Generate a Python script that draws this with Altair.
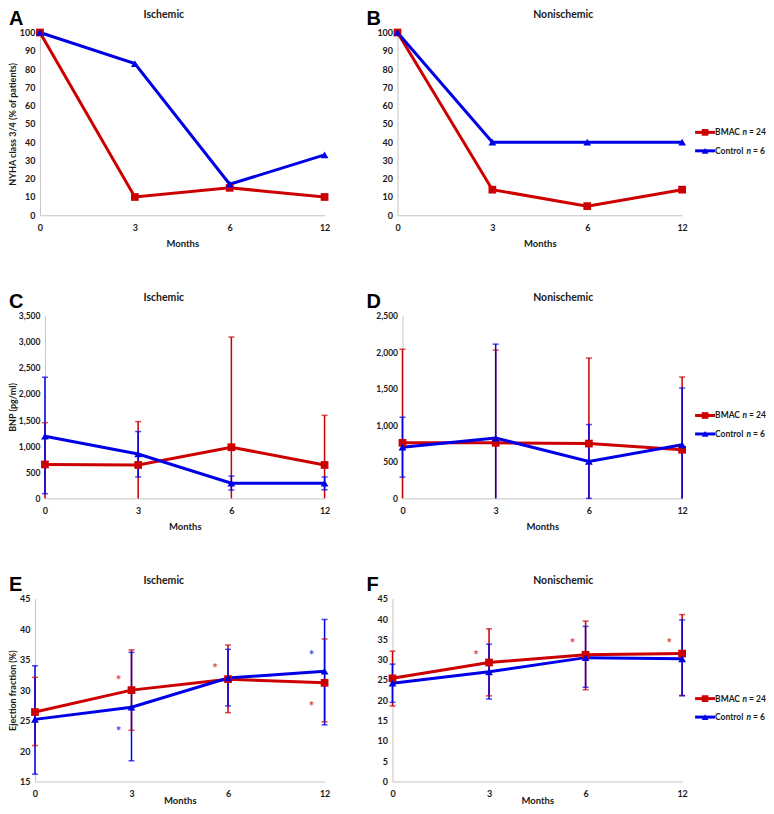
import altair as alt
import pandas as pd

months = ["0", "3", "6", "12"]
groups = ["BMAC", "Control"]
legend_n = [24, 6]

# NYHA class 3/4 (% of patients)
nyha_isch_bmac = [100, 10, 15, 10]
nyha_isch_ctrl = [100, 83, 17, 33]
nyha_non_bmac = [100, 14, 5, 14]
nyha_non_ctrl = [100, 40, 40, 40]

# BNP (pg/ml); None = error bar runs below the axis
bnp_isch_bmac = [650, 640, 980, 640]
bnp_isch_bmac_hi = [1450, 1470, 3090, 1590]
bnp_isch_bmac_lo = [None, None, None, None]
bnp_isch_ctrl = [1190, 850, 290, 290]
bnp_isch_ctrl_hi = [2320, 1280, 427, 410]
bnp_isch_ctrl_lo = [90, 410, 160, 165]

bnp_non_bmac = [760, 760, 750, 665]
bnp_non_bmac_hi = [2040, 2030, 1920, 1660]
bnp_non_bmac_lo = [None, None, None, None]
bnp_non_ctrl = [700, 825, 505, 733]
bnp_non_ctrl_hi = [1110, 2110, 1010, 1510]
bnp_non_ctrl_lo = [290, None, 0, None]

# Ejection fraction (%)
ef_isch_bmac = [26.4, 30.0, 31.8, 31.2]
ef_isch_bmac_hi = [32.1, 36.6, 37.4, 38.4]
ef_isch_bmac_lo = [20.9, 23.4, 26.3, 24.8]
ef_isch_ctrl = [25.2, 27.2, 32.0, 33.1]
ef_isch_ctrl_hi = [34.0, 36.2, 36.7, 41.6]
ef_isch_ctrl_lo = [16.2, 18.4, 27.4, 24.3]

ef_non_bmac = [25.4, 29.3, 31.2, 31.5]
ef_non_bmac_hi = [32.1, 37.6, 39.5, 41.1]
ef_non_bmac_lo = [18.6, 21.1, 22.6, 21.2]
ef_non_ctrl = [24.2, 27.0, 30.5, 30.2]
ef_non_ctrl_hi = [28.9, 33.8, 38.2, 39.8]
ef_non_ctrl_lo = [19.5, 20.3, 23.2, 21.1]

# significance asterisks: (month, group, y)
stars_isch_month = ["3", "6", "12", "3", "12"]
stars_isch_group = ["BMAC", "BMAC", "BMAC", "Control", "Control"]
stars_isch_y = [32.1, 34.1, 27.9, 23.8, 36.2]
stars_non_month = ["3", "6", "12"]
stars_non_group = ["BMAC", "BMAC", "BMAC"]
stars_non_y = [31.9, 34.9, 34.9]

RED = "#CC0000"
BLUE = "#0000E6"
AXIS = "#c4c4c4"
TXT = "#1a1a1a"
FONT = "Lato"
H = 183
W = 290
LEFT_ORIGIN = 34  # page x of left column view origin


def make_df(bmac, ctrl, bh=None, bl=None, ch=None, cl=None):
    rows = []
    for g, vals, his, los in [("BMAC", bmac, bh, bl), ("Control", ctrl, ch, cl)]:
        for i, m in enumerate(months):
            r = {"month": m, "group": g, "val": vals[i]}
            if his is not None:
                r["hi"] = his[i]
                r["lo_bar"] = los[i] if los[i] is not None else 0
                r["lo_cap"] = los[i] if los[i] is not None else float("nan")
            rows.append(r)
    return pd.DataFrame(rows)


def panel(df, ydom, yvals, yfmt, ytitle, title, letter, left_col, inset,
          stars=None, legend=False, months_y=31.5, ylab_size=9):
    w = W
    title_x = 129 if left_col else 171
    xaxis = alt.Axis(title="Months", labelAngle=0, ticks=False, domainColor=AXIS,
                     labelPadding=8, labelFontSize=9, labelFontWeight="bold",
                     labelColor=TXT, labelFont=FONT, titleFont=FONT,
                     titleFontSize=9.5, titleFontWeight="bold", titleColor=TXT,
                     titleY=months_y, titleBaseline="alphabetic")
    xenc = alt.X("month:N", sort=months,
                 scale=alt.Scale(type="point", padding=0, range=[inset, w]),
                 axis=xaxis)
    common = dict(values=yvals, format=yfmt, grid=False, ticks=False,
                  domainColor=AXIS, labelPadding=5, labelFontSize=ylab_size,
                  labelFontWeight="bold", labelColor=TXT, labelFont=FONT)
    if inset:
        common["offset"] = -inset
    if ytitle:
        yaxis = alt.Axis(titleFont=FONT, titleFontSize=9, titleFontWeight="bold",
                         titleColor=TXT, titleX=16.5 - (LEFT_ORIGIN + inset),
                         titleY=H / 2, titleAngle=270, titleAlign="center",
                         titleBaseline="bottom", **common)
    else:
        yaxis = alt.Axis(**common)
    yscale = alt.Scale(domain=ydom, nice=False, zero=False)

    def yenc(field):
        if ytitle:
            return alt.Y(field + ":Q", scale=yscale, axis=yaxis, title=ytitle)
        return alt.Y(field + ":Q", scale=yscale, axis=yaxis, title=None)

    color = alt.Color("group:N", scale=alt.Scale(domain=groups, range=[RED, BLUE]),
                      legend=None)
    shape = alt.Shape("group:N", scale=alt.Scale(domain=groups,
                                                 range=["square", "triangle-up"]),
                      legend=None)
    base = alt.Chart(df)
    layers = []
    if "hi" in df.columns:
        layers.append(base.mark_rule(strokeWidth=1.5).encode(
            x=xenc, y=yenc("lo_bar"), y2="hi:Q", color=color))
        layers.append(base.mark_tick(size=6, thickness=1.5).encode(
            x=xenc, y=yenc("hi"), color=color))
        layers.append(base.mark_tick(size=6, thickness=1.5).transform_filter(
            "isValid(datum.lo_cap) && isFinite(datum.lo_cap)").encode(
            x=xenc, y=yenc("lo_cap"), color=color))
    layers.append(base.mark_line(strokeWidth=3).encode(
        x=xenc, y=yenc("val"), color=color, detail="group:N"))
    layers.append(base.mark_point(filled=True, size=60, opacity=1).encode(
        x=xenc, y=yenc("val"), color=color, shape=shape))
    if stars is not None:
        layers.append(alt.Chart(stars).mark_text(
            text="*", dx=-13, dy=4, fontSize=13, fontWeight="bold", opacity=0.75,
            font=FONT).encode(x=xenc, y=yenc("y"), color=color))
    one = pd.DataFrame({"t": [letter], "ttl": [title]})
    layers.append(alt.Chart(one).mark_text(
        font="Liberation Sans", fontSize=20, fontWeight="bold", align="left",
        baseline="top", color="black").encode(
        text="t:N", x=alt.value(-26), y=alt.value(-24)))
    layers.append(alt.Chart(one).mark_text(
        font=FONT, fontSize=10.5, fontWeight="bold", align="center",
        baseline="alphabetic", color=TXT).encode(
        text="ttl:N", x=alt.value(title_x), y=alt.value(-14.5)))
    if legend:
        ys = [100, 118.5]
        cols = [RED, BLUE]
        shapes = ["square", "triangle-up"]
        for i, g in enumerate(groups):
            d = pd.DataFrame({"name": [g], "n": ["n"], "eq": ["= %d" % legend_n[i]]})
            lc = alt.Chart(d)
            layers.append(lc.mark_rule(strokeWidth=3, color=cols[i]).encode(
                x=alt.value(w + 13), x2=alt.value(w + 33), y=alt.value(ys[i])))
            layers.append(lc.mark_point(filled=True, size=45, opacity=1,
                                        shape=shapes[i], color=cols[i]).encode(
                x=alt.value(w + 23), y=alt.value(ys[i])))
            nx = 60.5 if i == 0 else 64.5
            layers.append(lc.mark_text(font=FONT, fontSize=8.5, fontWeight="bold",
                                       align="left", baseline="middle",
                                       color=TXT).encode(
                text="name:N", x=alt.value(w + 33), y=alt.value(ys[i])))
            layers.append(lc.mark_text(font=FONT, fontSize=8.5, fontWeight="bold",
                                       fontStyle="italic", align="left",
                                       baseline="middle", color=TXT).encode(
                text="n:N", x=alt.value(w + nx), y=alt.value(ys[i])))
            layers.append(lc.mark_text(font=FONT, fontSize=8.5, fontWeight="bold",
                                       align="left", baseline="middle",
                                       color=TXT).encode(
                text="eq:N", x=alt.value(w + nx + 6.5), y=alt.value(ys[i])))
    return alt.layer(*layers).properties(width=w, height=H)


def stars_df(ms, gs, ys):
    return pd.DataFrame({"month": ms, "group": gs, "y": ys})


nyha_vals = list(range(0, 101, 10))
A = panel(make_df(nyha_isch_bmac, nyha_isch_ctrl), [0, 100], nyha_vals, "d",
          "NYHA class 3/4 (% of patients)", "Ischemic", "A", True, 5)
B = panel(make_df(nyha_non_bmac, nyha_non_ctrl), [0, 100], nyha_vals, "d",
          None, "Nonischemic", "B", False, 5, legend=True)
C = panel(make_df(bnp_isch_bmac, bnp_isch_ctrl, bnp_isch_bmac_hi, bnp_isch_bmac_lo,
                  bnp_isch_ctrl_hi, bnp_isch_ctrl_lo),
          [0, 3500], list(range(0, 3501, 500)), ",d", "BNP (pg/ml)", "Ischemic",
          "C", True, 10, ylab_size=8.5)
D = panel(make_df(bnp_non_bmac, bnp_non_ctrl, bnp_non_bmac_hi, bnp_non_bmac_lo,
                  bnp_non_ctrl_hi, bnp_non_ctrl_lo),
          [0, 2500], list(range(0, 2501, 500)), ",d", None, "Nonischemic",
          "D", False, 10, legend=True, ylab_size=8.5)
E = panel(make_df(ef_isch_bmac, ef_isch_ctrl, ef_isch_bmac_hi, ef_isch_bmac_lo,
                  ef_isch_ctrl_hi, ef_isch_ctrl_lo),
          [15, 45], list(range(15, 46, 5)), "d", "Ejection fraction (%)", "Ischemic",
          "E", True, 0, months_y=22,
          stars=stars_df(stars_isch_month, stars_isch_group, stars_isch_y))
F = panel(make_df(ef_non_bmac, ef_non_ctrl, ef_non_bmac_hi, ef_non_bmac_lo,
                  ef_non_ctrl_hi, ef_non_ctrl_lo),
          [0, 45], list(range(0, 46, 5)), "d", None, "Nonischemic",
          "F", False, 0, months_y=22,
          stars=stars_df(stars_non_month, stars_non_group, stars_non_y), legend=True)

chart = alt.concat(
    A, B, C, D, E, F, columns=2, bounds="flush",
    spacing=alt.RowColnumber(row=100.5, column=68),
).properties(
    padding={"left": 0, "top": 0, "right": 0, "bottom": 0}, background="white"
).configure_view(strokeWidth=0).configure_text(font=FONT)

chart.save("out.html", embed_options={"renderer": "svg", "actions": False})
